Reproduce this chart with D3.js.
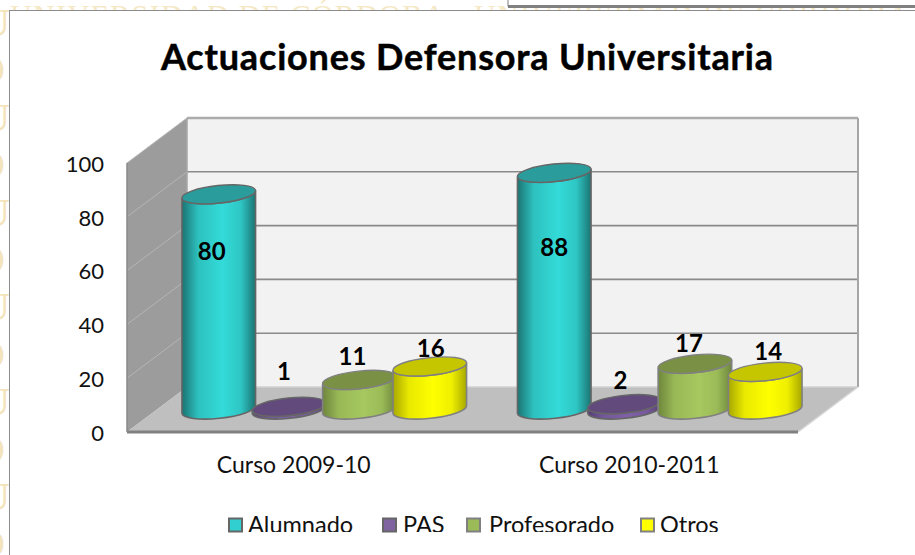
<!DOCTYPE html>
<html><head><meta charset="utf-8">
<style>html,body{margin:0;padding:0;background:#fff;overflow:hidden}svg{display:block}text{font-family:Lato,"Open Sans",sans-serif}</style>
<script src="https://d3js.org/d3.v7.min.js"></script></head><body>
<svg id="c" width="915" height="555"></svg>
<script>
const chartTitle = "Actuaciones Defensora Universitaria";
const categories = ["Curso 2009-10", "Curso 2010-2011"];
const seriesNames = ["Alumnado", "PAS", "Profesorado", "Otros"];
const alumnado = [80, 88];
const pas = [1, 2];
const profesorado = [11, 17];
const otros = [16, 14];
const yTicks = [0, 20, 40, 60, 80, 100];
const watermarkTop = "UNIVERSIDAD DE CÓRDOBA · UNIVERSIDAD DE CÓRDOBA";
const watermarkSide = ["U","O","U","O","U","O","U","O","U","O","U","O"];

const seriesValues = [alumnado, pas, profesorado, otros];
const colours = [
 {side:"#33DBD8", edge:"#1B7473", top:"#2A9C9B", sw:"#31CFCF", line:"#666"},
 {side:"#7F60A8", edge:"#553F72", top:"#624B7C", sw:"#8064A2", line:"#666"},
 {side:"#A6C85F", edge:"#6E863C", top:"#7A9045", sw:"#9BBB59", line:"#808080"},
 {side:"#FFFF00", edge:"#A8A800", top:"#C6C600", sw:"#FFFF00", line:"#808080"}
];
// placement of the value labels relative to each cylinder's top (series x category)
const labelNudge = [
 [[-7,57],[0,75]],
 [[-5,-35],[-4,-24]],
 [[-7,-23],[-6,-20]],
 [[1,-18],[3,-20]]
];

const svg = d3.select("#c");
const defs = svg.append("defs");
const clip = (id,x,y,w,h)=>defs.append("clipPath").attr("id",id).append("rect").attr("x",x).attr("y",y).attr("width",w).attr("height",h);
clip("legendClip",0,500,915,32);
clip("sideClip",0,0,9,555);
clip("topClip",0,0,915,10);

// page background watermark
svg.append("text").attr("x",10).attr("y",25).attr("clip-path","url(#topClip)")
 .attr("fill","#F5E8C4").style("font-family","'Liberation Serif'").style("font-size","30px").attr("letter-spacing","1.36")
 .text(watermarkTop);
svg.selectAll("text.side").data(watermarkSide).join("text").attr("class","side")
 .attr("x",(d,i)=>i%2?-24:-19).attr("y",(d,i)=>36+i*47.4).attr("clip-path","url(#sideClip)")
 .attr("fill","#F3E4BC").style("font-family","'Liberation Serif'").style("font-weight",(d,i)=>i%2?"400":"700").style("font-size","40px").text(d=>d);
// overlapped window at top right
svg.append("rect").attr("x",508).attr("y",-4).attr("width",420).attr("height",10).attr("fill","#fff").attr("stroke","#808080").attr("stroke-width",1);
svg.append("rect").attr("x",508).attr("y",5).attr("width",407).attr("height",3).attr("fill","#808080");
// white panel
svg.append("rect").attr("x",9.5).attr("y",10.5).attr("width",920).attr("height",560).attr("fill","#fff").attr("stroke","#8c8c8c").attr("stroke-width",1);

// scales
const y = d3.scaleLinear().domain([0,100]).range([432,163]);       // front plane
const depthX = 60, depthY = -45;                                    // 3-D depth offset
const yBar = d3.scaleLinear().domain([0,100]).range([409.5,140.5]);  // mid-depth plane
const xGroup = d3.scaleBand().domain(categories).range([127,798]);
const xSeries = d3.scalePoint().domain(seriesNames).range([-76,135]);
const frontRight = xGroup.range()[1], frontLeft = xGroup.range()[0];

// walls
const g = svg.append("g");
const poly = pts=>"M"+pts.map(p=>p.join(",")).join("L")+"Z";
const yb0=y(0), yt=y(100);
g.append("path").attr("d",poly([[frontLeft+depthX,yt+depthY],[frontRight+depthX,yt+depthY],[frontRight+depthX,yb0+depthY],[frontLeft+depthX,yb0+depthY]])).attr("fill","#F2F2F2");
g.append("path").attr("d",poly([[frontLeft,yt],[frontLeft+depthX,yt+depthY],[frontLeft+depthX,yb0+depthY],[frontLeft,yb0]])).attr("fill","#9C9C9C");
g.append("path").attr("d",poly([[frontLeft,yb0],[frontLeft+depthX,yb0+depthY],[frontRight+depthX,yb0+depthY],[frontRight,yb0]])).attr("fill","#BFBFBF");
// grid
yTicks.forEach(t=>{
  if(t>0){
    g.append("line").attr("x1",frontLeft).attr("x2",frontLeft+depthX).attr("y1",y(t)).attr("y2",y(t)+depthY).attr("stroke","#B5B5B5").attr("stroke-width",1);
  }
  g.append("line").attr("x1",frontLeft+depthX).attr("x2",frontRight+depthX).attr("y1",y(t)+depthY).attr("y2",y(t)+depthY)
   .attr("stroke",t===100?"#ABABAB":(t===0?"#D0D0D0":"#8A8A8A")).attr("stroke-width",t===100?2.4:1.6);
});
g.append("line").attr("x1",frontRight+depthX).attr("x2",frontRight+depthX).attr("y1",yt+depthY).attr("y2",yb0+depthY).attr("stroke","#A6A6A6").attr("stroke-width",2);
g.append("line").attr("x1",frontLeft+depthX).attr("x2",frontLeft+depthX).attr("y1",yt+depthY).attr("y2",yb0+depthY).attr("stroke","#A6A6A6").attr("stroke-width",1.5);
g.append("line").attr("x1",frontRight).attr("x2",frontRight+depthX).attr("y1",yb0).attr("y2",yb0+depthY).attr("stroke","#D6D6D6").attr("stroke-width",1.5);
g.append("line").attr("x1",frontLeft).attr("x2",frontRight).attr("y1",yb0).attr("y2",yb0).attr("stroke","#808080").attr("stroke-width",3);
g.append("line").attr("x1",frontLeft).attr("x2",frontLeft).attr("y1",yt).attr("y2",yb0).attr("stroke","#8A8A8A").attr("stroke-width",1.5);

// axis labels
svg.selectAll("text.ytick").data(yTicks).join("text").attr("class","ytick")
 .attr("x",104).attr("y",d=>y(d)+1).attr("dy","0.35em").attr("text-anchor","end").attr("fill","#111")
 .style("font-size","22px").text(d=>d);
svg.selectAll("text.xtick").data(categories).join("text").attr("class","xtick")
 .attr("x",d=>xGroup(d)+xGroup.bandwidth()/2-1).attr("y",473).attr("text-anchor","middle").attr("fill","#111")
 .style("font-size","23px").text(d=>d);

// gradients
colours.forEach((c,i)=>{
  const gr=defs.append("linearGradient").attr("id","grad"+i).attr("x1",0).attr("x2",1).attr("y1",0).attr("y2",0);
  [[0,c.edge],[.22,c.side],[.55,c.side],[.8,c.side],[1,c.edge]].forEach(s=>gr.append("stop").attr("offset",s[0]).attr("stop-color",s[1]));
  gr.select("stop:nth-child(2)").attr("stop-color",d3.interpolateRgb(c.edge,c.side)(.75));
  gr.select("stop:nth-child(4)").attr("stop-color",d3.interpolateRgb(c.edge,c.side)(.8));
});

// cylinders
const rx=37, ry=8.8, rot=-6;
const dxTilt=rx*Math.cos(rot*Math.PI/180), dyTilt=rx*Math.sin(rot*Math.PI/180);
const bars = svg.append("g");
const labels = [];
categories.forEach((cat,ci)=>{
  seriesNames.forEach((s,si)=>{
    const v=seriesValues[si][ci];
    const cx=xGroup(cat)+xGroup.bandwidth()/2+xSeries(s), ty=yBar(v), by=yBar(0), c=colours[si];
    const lx=cx-dxTilt, rxp=cx+dxTilt;
    const body=`M${lx},${ty-dyTilt}L${lx},${by-dyTilt}A${rx},${ry} ${rot} 0 0 ${rxp},${by+dyTilt}L${rxp},${ty+dyTilt}A${rx},${ry} ${rot} 0 1 ${lx},${ty-dyTilt}Z`;
    bars.append("path").attr("d",body).attr("fill",`url(#grad${si})`).attr("stroke",c.line).attr("stroke-width",1.6);
    bars.append("ellipse").attr("cx",cx).attr("cy",ty).attr("rx",rx).attr("ry",ry)
      .attr("transform",`rotate(${rot} ${cx} ${ty})`).attr("fill",c.top).attr("stroke",c.line).attr("stroke-width",1.4);
    labels.push({v,x:cx+labelNudge[si][ci][0],y:ty+labelNudge[si][ci][1]});
  });
});
svg.selectAll("text.val").data(labels).join("text").attr("class","val")
 .attr("x",d=>d.x).attr("y",d=>d.y).attr("dy","0.35em").attr("text-anchor","middle").attr("fill","#000")
 .style("font-size","24px").style("font-weight","700").text(d=>d.v);

// title
svg.append("text").attr("x",467).attr("y",70).attr("text-anchor","middle").attr("fill","#000")
 .attr("textLength",612).attr("lengthAdjust","spacing").attr("stroke","#000").attr("stroke-width",0.5)
 .style("font-size","36px").style("font-weight","700").text(chartTitle);

// legend
const legendX = d3.scaleOrdinal().domain(seriesNames).range([228,382,466,640]);
const legendTextX = d3.scaleOrdinal().domain(seriesNames).range([248,403,489,660]);
const leg = svg.append("g");
seriesNames.forEach((s,i)=>{
  leg.append("rect").attr("x",legendX(s)+1).attr("y",518.5).attr("width",13).attr("height",13)
   .attr("fill",colours[i].sw).attr("stroke",colours[i].line).attr("stroke-width",2);
  leg.append("text").attr("x",legendTextX(s)).attr("y",533).attr("clip-path","url(#legendClip)").attr("fill","#111")
   .style("font-size","23.5px").text(s);
});
</script></body></html>
